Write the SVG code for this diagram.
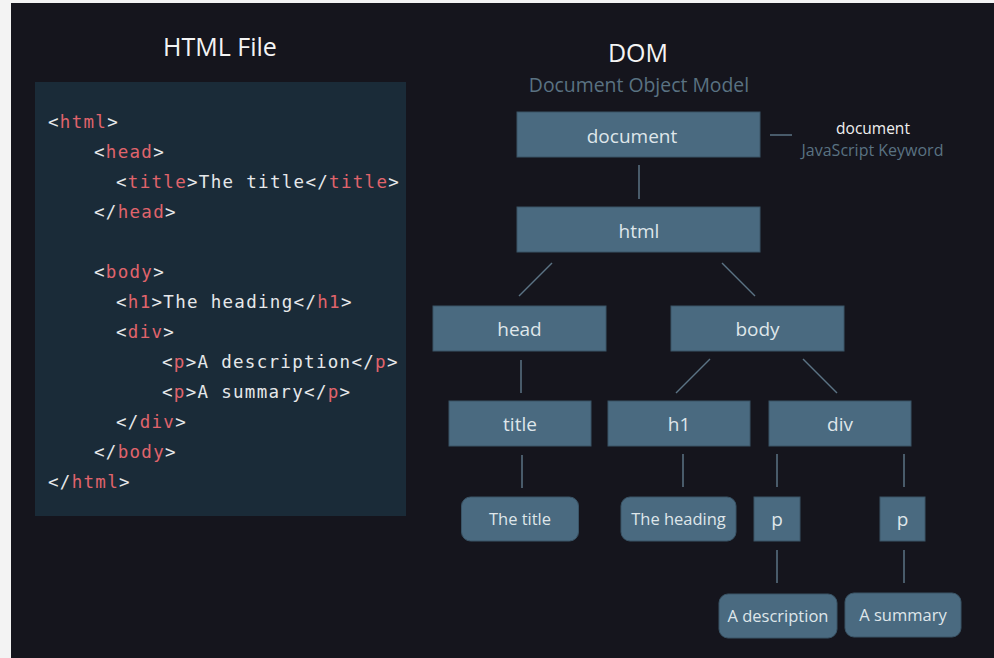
<svg xmlns="http://www.w3.org/2000/svg" width="994" height="658" viewBox="0 0 994 658">
<style>
.node rect{fill:#4a6a80;stroke:#3a5466;stroke-width:1}
.lbl{font-family:"Open Sans","Noto Sans",sans-serif;font-size:19px;fill:#dfe6ea;text-anchor:middle}
.sm{font-size:16.5px}
.code{font-family:"DejaVu Sans Mono","Liberation Mono",monospace;font-size:17.5px;letter-spacing:1.3px;fill:#e6e8ea}
.t{fill:#e0646c}
.conn line{stroke:#5b7384;stroke-width:1.5}
.title{font-family:"Open Sans","Noto Sans",sans-serif;font-size:25px;fill:#f4f4f4;text-anchor:middle}
.sub{font-family:"Open Sans","Noto Sans",sans-serif;fill:#5a7282;text-anchor:middle}
</style>
<rect x="0" y="0" width="994" height="658" fill="#f3f3f3"/>
<rect x="11" y="3" width="983" height="655" fill="#15151d"/>
<text class="title" x="220" y="56">HTML File</text>
<g id="code">
<rect x="35" y="82" width="371" height="434" fill="#1a2b38"/>
<text class="code" x="48" y="128">&lt;<tspan class="t">html</tspan>&gt;</text>
<text class="code" x="94" y="158">&lt;<tspan class="t">head</tspan>&gt;</text>
<text class="code" x="116" y="188">&lt;<tspan class="t">title</tspan>&gt;The title&lt;/<tspan class="t">title</tspan>&gt;</text>
<text class="code" x="94" y="218">&lt;/<tspan class="t">head</tspan>&gt;</text>
<text class="code" x="94" y="278">&lt;<tspan class="t">body</tspan>&gt;</text>
<text class="code" x="116" y="308">&lt;<tspan class="t">h1</tspan>&gt;The heading&lt;/<tspan class="t">h1</tspan>&gt;</text>
<text class="code" x="116" y="338">&lt;<tspan class="t">div</tspan>&gt;</text>
<text class="code" x="162" y="368">&lt;<tspan class="t">p</tspan>&gt;A description&lt;/<tspan class="t">p</tspan>&gt;</text>
<text class="code" x="162" y="398">&lt;<tspan class="t">p</tspan>&gt;A summary&lt;/<tspan class="t">p</tspan>&gt;</text>
<text class="code" x="116" y="428">&lt;/<tspan class="t">div</tspan>&gt;</text>
<text class="code" x="94" y="458">&lt;/<tspan class="t">body</tspan>&gt;</text>
<text class="code" x="48" y="488">&lt;/<tspan class="t">html</tspan>&gt;</text>
</g>
<text class="title" x="638" y="62">DOM</text>
<text class="sub" x="639" y="92" font-size="19.4">Document Object Model</text>
<g id="legend">
<text x="873" y="134" font-family="'Open Sans','Noto Sans',sans-serif" font-size="15.5" fill="#f0f0f0" text-anchor="middle">document</text>
<text class="sub" x="872.5" y="156" font-size="16">JavaScript Keyword</text>
</g>
<g class="conn" id="connectors">
<line x1="639" y1="165" x2="639" y2="199"/>
<line x1="770" y1="135" x2="792" y2="135"/>
<line x1="552" y1="263" x2="519" y2="296"/>
<line x1="722" y1="263" x2="755" y2="296"/>
<line x1="521" y1="360" x2="521" y2="393"/>
<line x1="710" y1="359" x2="676" y2="393"/>
<line x1="803" y1="359" x2="837" y2="393"/>
<line x1="522" y1="455" x2="522" y2="488"/>
<line x1="683" y1="454" x2="683" y2="487"/>
<line x1="777" y1="454" x2="777" y2="487"/>
<line x1="904" y1="454" x2="904" y2="487"/>
<line x1="777" y1="550" x2="777" y2="583"/>
<line x1="904" y1="550" x2="904" y2="583"/>
</g>
<g class="node" id="n-document"><rect x="517" y="112" width="243" height="45"/><text class="lbl" x="632" y="143">document</text></g>
<g class="node" id="n-html"><rect x="517" y="207" width="243" height="45"/><text class="lbl" x="639" y="238">html</text></g>
<g class="node" id="n-head"><rect x="433" y="306" width="173" height="45"/><text class="lbl" x="519.5" y="336">head</text></g>
<g class="node" id="n-body"><rect x="671" y="306" width="173" height="45"/><text class="lbl" x="757.5" y="336">body</text></g>
<g class="node" id="n-title"><rect x="449" y="401" width="142" height="45"/><text class="lbl" x="520" y="431">title</text></g>
<g class="node" id="n-h1"><rect x="608" y="401" width="142" height="45"/><text class="lbl" x="679" y="431">h1</text></g>
<g class="node" id="n-div"><rect x="769" y="401" width="142" height="45"/><text class="lbl" x="840" y="431">div</text></g>
<g class="node" id="n-thetitle"><rect x="461.5" y="497" width="117" height="44" rx="9"/><text class="lbl sm" x="520" y="525">The title</text></g>
<g class="node" id="n-theheading"><rect x="621" y="497" width="115" height="44" rx="9"/><text class="lbl sm" x="678.5" y="525">The heading</text></g>
<g class="node" id="n-p1"><rect x="754" y="497" width="46" height="44"/><text class="lbl" x="777" y="526">p</text></g>
<g class="node" id="n-p2"><rect x="880" y="497" width="45" height="44"/><text class="lbl" x="902.5" y="526">p</text></g>
<g class="node" id="n-adesc"><rect x="719" y="594" width="118" height="44" rx="9"/><text class="lbl sm" x="778" y="622">A description</text></g>
<g class="node" id="n-asum"><rect x="845" y="593" width="116" height="44" rx="9"/><text class="lbl sm" x="903" y="621">A summary</text></g>
</svg>
